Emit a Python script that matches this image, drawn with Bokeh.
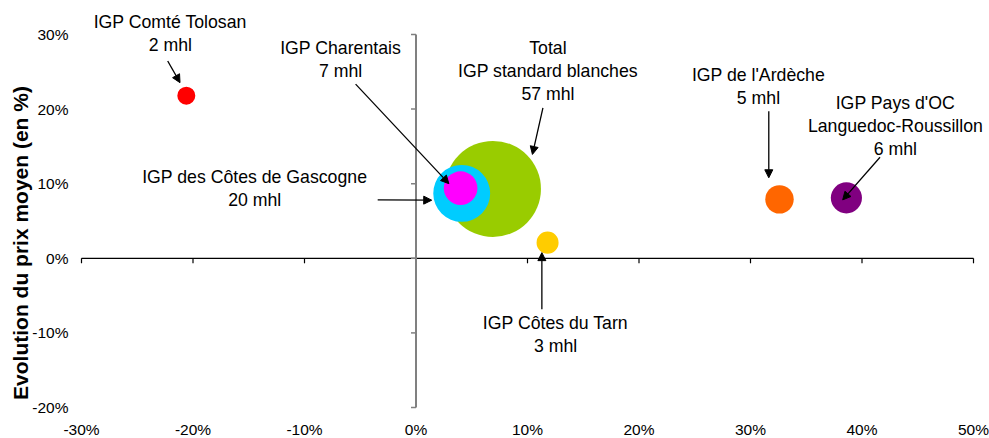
import numpy as np
from bokeh.plotting import figure
from bokeh.models import Range1d, Arrow, NormalHead, ColumnDataSource
from bokeh.core.properties import value
from bokeh.embed import file_html
from bokeh.resources import INLINE

# --- data -------------------------------------------------------------------
names = ["Total\nIGP standard blanches", "IGP des Côtes de Gascogne", "IGP Charentais",
         "IGP Comté Tolosan", "IGP Côtes du Tarn", "IGP de l'Ardèche",
         "IGP Pays d'OC\nLanguedoc-Roussillon"]
volumes_mhl = [57, 20, 7, 2, 3, 5, 6]
volume_change = [6.9, 4.1, 4.0, -20.6, 11.8, 32.6, 38.6]   # x, %
price_change = [9.3, 8.7, 9.4, 21.8, 2.1, 7.9, 8.1]        # y, %
colors = ["#99CC00", "#00CCFF", "#FF00FF", "#FF0000", "#FFCC00", "#FF6600", "#800080"]

x_ticks = [-30, -20, -10, 0, 10, 20, 30, 40, 50]
x_tick_labels = ["-30%", "-20%", "-10%", "0%", "10%", "20%", "30%", "40%", "50%"]
y_ticks = [-20, -10, 0, 10, 20, 30]
y_tick_labels = ["-20%", "-10%", "0%", "10%", "20%", "30%"]
y_title = "Evolution du prix moyen (en %)"

# --- layout -----------------------------------------------------------------
W, H = 989, 438
BL, BR, BT, BB = 81, 16, 34, 31          # room around the plotting area, px
X0, X1, Y0, Y1 = -30, 50, -20, 30
px_x = (W - BL - BR) / (X1 - X0)
px_y = (H - BT - BB) / (Y1 - Y0)
bubble_scale = 6.36  # px of radius per sqrt(mhl)
FONT = "Liberation Sans"

# label block centre and arrow start/end, as screen-pixel offsets from each bubble
label_off = [(55, -118), (-207, -5), (-120, -129), (-16, -62), (8, 92), (-21, -113), (49, -72)]
arrow_start = [(50, -81), (-84, 6.5), (-105, -104), (-18.6, -34.7), (-5.7, 66.6), (-10.7, -88), (33.6, -40.6)]
arrow_end = [(39.5, -34.5), (-30, 6.8), (-11.7, -4.5), (-6.3, -13), (-5.7, 10), (-10.7, -21.6), (-3.7, 2)]

xs = np.array(volume_change, dtype=float)
ys = np.array(price_change, dtype=float)
vols = np.array(volumes_mhl, dtype=float)


def shift(offsets):
    o = np.array(offsets, dtype=float)
    return xs + o[:, 0] / px_x, ys - o[:, 1] / px_y


lab_x, lab_y = shift(label_off)
ax0, ay0 = shift(arrow_start)
ax1, ay1 = shift(arrow_end)
texts = [f"{n}\n{int(v)} mhl" for n, v in zip(names, volumes_mhl)]

# the frame covers the whole canvas so that nothing is clipped
p = figure(width=W, height=H, output_backend="svg", toolbar_location=None,
           x_range=Range1d(X0 - BL / px_x, X1 + BR / px_x),
           y_range=Range1d(Y0 - BB / px_y, Y1 + BT / px_y),
           min_border=0, x_axis_location=None, y_axis_location=None)
p.outline_line_color = None
p.xgrid.visible = False
p.ygrid.visible = False
p.background_fill_color = "white"
p.border_fill_color = "white"

# axes crossing at zero, with outward ticks
xt = np.array(x_ticks, dtype=float)
yt = np.array(y_ticks, dtype=float)
p.segment(x0=[X0], y0=[0], x1=[X1], y1=[0], line_color="black", line_width=1.2)
p.segment(x0=xt, y0=np.zeros_like(xt), x1=xt, y1=np.full_like(xt, -5 / px_y),
          line_color="black", line_width=1.2)
p.segment(x0=[0], y0=[Y0], x1=[0], y1=[Y1], line_color="#808080", line_width=2)
p.segment(x0=np.zeros_like(yt), y0=yt, x1=np.full_like(yt, -5 / px_x), y1=yt,
          line_color="#808080", line_width=1.5)

# tick labels along the edges of the plotting area
p.text(x=xt, y=np.full_like(xt, Y0 - 21.5 / px_y), text=x_tick_labels,
       text_font=value(FONT), text_font_size="15.5px", text_align="center",
       text_baseline="middle", text_color="black")
p.text(x=np.full_like(yt, X0 - 13 / px_x), y=yt, text=y_tick_labels,
       text_font=value(FONT), text_font_size="15.5px", text_align="right",
       text_baseline="middle", text_color="black")

# vertical axis title
p.text(x=[X0 - (BL - 19.5) / px_x], y=[Y1 - (242.5 - BT) / px_y], text=[y_title],
       angle=np.pi / 2, text_font=value(FONT), text_font_size="21px",
       text_font_style="bold", text_align="center", text_baseline="middle",
       text_color="black")

# bubbles, area proportional to volume
src = ColumnDataSource(dict(x=xs, y=ys, size=2 * bubble_scale * np.sqrt(vols), color=colors))
p.scatter(x="x", y="y", size="size", fill_color="color", line_color=None, source=src)

# callouts
lab_src = ColumnDataSource(dict(x=lab_x, y=lab_y, text=texts))
p.text(x="x", y="y", text="text", source=lab_src, text_font=value(FONT),
       text_font_size="17.7px", text_align="center", text_baseline="middle",
       text_line_height=1.14, text_color="black")
arr_src = ColumnDataSource(dict(x0=ax0, y0=ay0, x1=ax1, y1=ay1))
p.add_layout(Arrow(x_start="x0", y_start="y0", x_end="x1", y_end="y1", source=arr_src,
                   line_color="black", line_width=1.3,
                   end=NormalHead(size=8, fill_color="black", line_color="black", line_width=1)))

open("out.html", "w").write(file_html(p, INLINE))
